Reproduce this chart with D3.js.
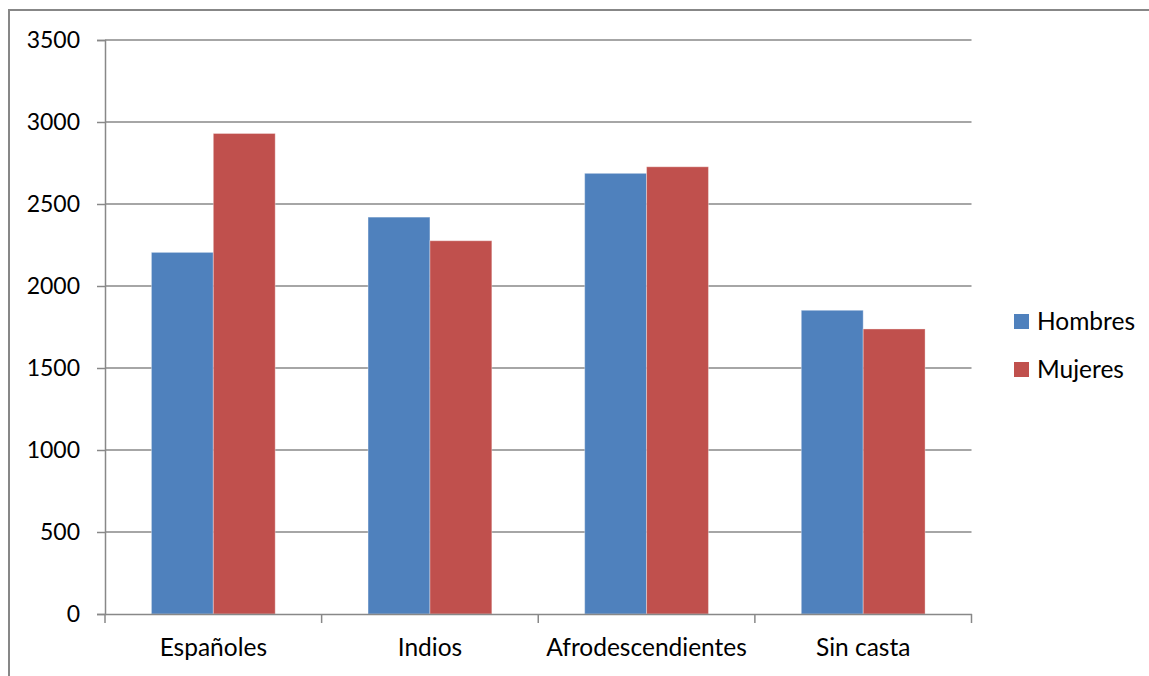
<!DOCTYPE html>
<html>
<head>
<meta charset="utf-8">
<script src="https://cdn.jsdelivr.net/npm/d3@7"></script>
<style>
  html, body { margin: 0; padding: 0; background: #fff; }
  svg { display: block; }
  text { font-family: Lato, "Open Sans", sans-serif; fill: #000; }
</style>
</head>
<body>
<svg id="chart" width="1149" height="676"></svg>
<script>
// Population by caste and sex
const categories = ["Españoles", "Indios", "Afrodescendientes", "Sin casta"];
const seriesNames = ["Hombres", "Mujeres"];
const hombres = [2205, 2420, 2687, 1852];
const mujeres = [2930, 2276, 2727, 1738];
const yTicks = [0, 500, 1000, 1500, 2000, 2500, 3000, 3500];
const colors = ["#4F81BD", "#C0504D"];

const svg = d3.select("#chart");
const W = 1149, H = 676;
const plot = { left: 105, right: 971.5, top: 40, bottom: 614 };
const gridColor = "#888888";
const labelSize = 24.5;
const numberSize = 23;

// Outer chart frame (extends past the right and bottom edges)
svg.append("rect")
  .attr("x", 9).attr("y", 10)
  .attr("width", W + 20).attr("height", H + 20)
  .attr("fill", "#fff")
  .attr("stroke", "#878787")
  .attr("stroke-width", 2);

const x = d3.scaleBand()
  .domain(categories)
  .range([plot.left, plot.right])
  .paddingInner(0).paddingOuter(0);

const y = d3.scaleLinear()
  .domain([0, 3500])
  .range([plot.bottom, plot.top]);

// Horizontal gridlines
svg.append("g")
  .selectAll("line")
  .data(yTicks.filter(d => d > 0))
  .join("line")
  .attr("x1", plot.left).attr("x2", plot.right)
  .attr("y1", d => y(d)).attr("y2", d => y(d))
  .attr("stroke", gridColor)
  .attr("stroke-width", 1.5);

// Bars: within each category, bar width w and gap 1.5w (gap split on both sides)
const inner = d3.scaleBand()
  .domain(seriesNames)
  .range([0, x.bandwidth()])
  .paddingInner(0)
  .paddingOuter(0.75);

const rows = categories.map((c, i) => ({ cat: c, vals: [hombres[i], mujeres[i]] }));

const groups = svg.append("g")
  .selectAll("g")
  .data(rows)
  .join("g")
  .attr("transform", d => `translate(${x(d.cat)},0)`);

groups.selectAll("rect")
  .data(d => d.vals.map((v, j) => ({ name: seriesNames[j], v, j })))
  .join("rect")
  .attr("x", d => inner(d.name))
  .attr("width", inner.bandwidth())
  .attr("y", d => y(d.v))
  .attr("height", d => y(0) - y(d.v))
  .attr("fill", d => colors[d.j])
  .attr("stroke", "rgba(255,255,255,0.35)")
  .attr("stroke-width", 1);

// Y axis
const yAxis = d3.axisLeft(y)
  .tickValues(yTicks)
  .tickSize(8)
  .tickPadding(17)
  .tickFormat(d3.format("d"));

const gy = svg.append("g")
  .attr("transform", `translate(${plot.left},0)`)
  .call(yAxis);
gy.select(".domain").attr("stroke", gridColor).attr("stroke-width", 1.5);
gy.selectAll(".tick line").attr("stroke", gridColor).attr("stroke-width", 1.5);
gy.selectAll(".tick text")
  .attr("font-size", numberSize)
  .attr("font-family", "Lato, 'Open Sans', sans-serif")
  .attr("fill", "#000");

// X axis: tick marks at category boundaries
const xAxis = d3.axisBottom(x).tickSize(0).tickPadding(25);
const gx = svg.append("g")
  .attr("transform", `translate(0,${plot.bottom})`)
  .call(xAxis);
gx.select(".domain").attr("stroke", gridColor).attr("stroke-width", 1.5);
gx.selectAll(".tick text")
  .attr("font-size", labelSize)
  .attr("font-family", "Lato, 'Open Sans', sans-serif")
  .attr("fill", "#000");

const bounds = categories.map(c => x(c)).concat([x(categories[categories.length - 1]) + x.bandwidth()]);
gx.append("g")
  .selectAll("line")
  .data(bounds)
  .join("line")
  .attr("x1", d => d).attr("x2", d => d)
  .attr("y1", 0).attr("y2", 9)
  .attr("stroke", gridColor)
  .attr("stroke-width", 1.5);

// Legend
const legend = svg.append("g")
  .selectAll("g")
  .data(seriesNames)
  .join("g")
  .attr("transform", (d, i) => `translate(1014,${314 + i * 48})`);

legend.append("rect")
  .attr("width", 15).attr("height", 15)
  .attr("fill", (d, i) => colors[i]);

legend.append("text")
  .attr("x", 23)
  .attr("y", 7.5)
  .attr("dy", "0.35em")
  .attr("font-size", labelSize)
  .text(d => d);
</script>
</body>
</html>
